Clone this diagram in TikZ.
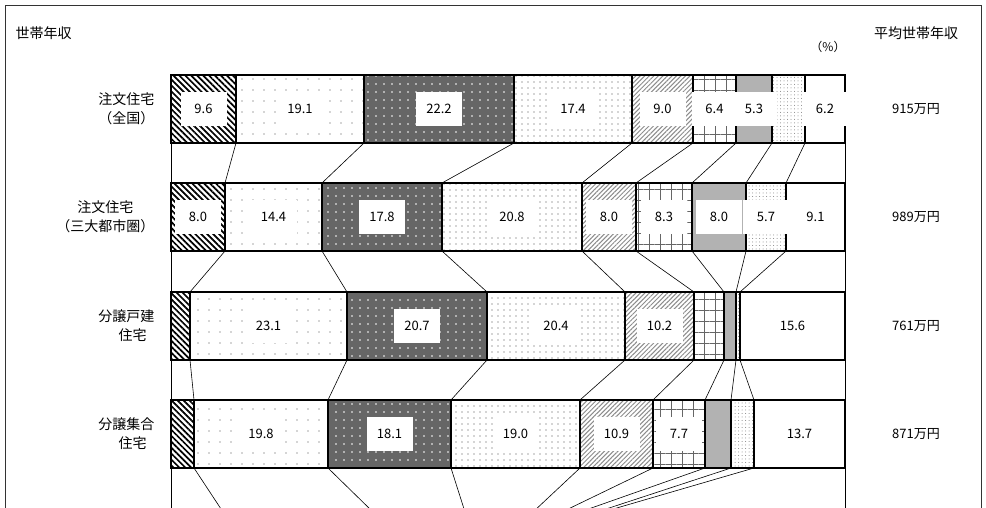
\documentclass[tikz,border=0pt]{standalone}
\usepackage{fontspec}
\setmainfont{Noto Sans CJK JP}
\usetikzlibrary{patterns.meta, calc}

\tikzset{
    bar/.style = {draw=black, line width=1.1pt},
    seg1/.style = {bar, preaction={fill=white}, pattern={Lines[angle=-45,distance=4.2pt,line width=1.7pt]}},
    seg2/.style = {bar, preaction={fill=white}, pattern={Dots[distance=11pt,radius=0.7pt]}, pattern color=black!70},
    seg3/.style = {bar, preaction={fill=black!60}, pattern={Dots[distance=8pt,radius=0.9pt]}, pattern color=white},
    seg4/.style = {bar, preaction={fill=white}, pattern={Dots[distance=6pt,radius=0.7pt]}, pattern color=black!70},
    seg5/.style = {bar, preaction={fill=white}, pattern={Lines[angle=45,distance=3.2pt,line width=1pt]}, pattern color=black!45},
    seg6/.style = {bar, preaction={fill=white}, pattern={Hatch[angle=0,distance=11pt,line width=0.9pt]}, pattern color=black!60},
    seg7/.style = {bar, fill=black!30},
    seg8/.style = {bar, preaction={fill=white}, pattern={Dots[distance=3.5pt,radius=0.5pt]}, pattern color=black!50},
    seg9/.style = {bar, fill=white},
    lab/.style = {fill=white, inner sep=0pt, minimum width=46pt, minimum height=34pt, font=\fontsize{13pt}{13pt}\selectfont},
    rowlab/.style = {align=center, font=\fontsize{14pt}{19pt}\selectfont},
    link/.style = {draw=black, line width=0.6pt},
}

\begin{document}
\begin{tikzpicture}[x=1pt, y=-1pt]
    \useasboundingbox (0,0) rectangle (986,508);
    \draw[line width=0.8pt, black!80] (5,520) -- (5,5) -- (981,5) -- (981,520);
    %headings
    \node[font=\fontsize{14pt}{14pt}\selectfont, anchor=west] (hd income) at (12,33) {世帯年収};
    \node[font=\fontsize{14pt}{14pt}\selectfont] (hd avg) at (916,33) {平均世帯年収};
    \node[font=\fontsize{12pt}{12pt}\selectfont] (hd pct) at (828,47) {（\%）};
    %bars
    \foreach \row/\yt/\xs/\labs/\name/\avg in {
        1/75/{171,236,364,514,632,693,736,772,805,845}/{1/9.6,2/19.1,3/22.2,4/17.4,5/9.0,6/6.4,7/5.3,9/6.2}/{注文住宅\\（全国）}/915,
        2/183/{171,225,322,442,582,636,692,746,786,845}/{1/8.0,2/14.4,3/17.8,4/20.8,5/8.0,6/8.3,7/8.0,8/5.7,9/9.1}/{注文住宅\\（三大都市圏）}/989,
        3/292/{171,190,347,487,625,694,724,736,740,845}/{2/23.1,3/20.7,4/20.4,5/10.2,9/15.6}/{分譲戸建\\\ \ \ \ 住宅}/761,
        4/400/{171,194,328,451,580,653,705,731,754,845}/{2/19.8,3/18.1,4/19.0,5/10.9,6/7.7,9/13.7}/{分譲集合\\\ \ \ \ 住宅}/871}{
        \foreach \x [count=\j] in \xs {
            \coordinate (r\row t\j) at (\x,\yt);
            \coordinate (r\row b\j) at (\x,\yt+68);
        }
        \foreach \j in {1,...,9} {
            \pgfmathtruncatemacro\k{\j+1}
            \path[seg\j] (r\row t\j) rectangle (r\row b\k);
        }
        \foreach \j/\v in \labs {
            \pgfmathtruncatemacro\k{\j+1}
            \node[lab] (r\row l\j) at ($(r\row t\j)!0.5!(r\row b\k)$) {\v};
        }
        \node[rowlab, anchor=east] (r\row name) at (158,\yt+34) {\name};
        \node[font=\fontsize{13pt}{13pt}\selectfont] (r\row avg) at (916,\yt+34) {\avg 万円};
    }
    %links between bars
    \foreach \row [evaluate=\row as \nxt using int(\row+1)] in {1,2,3} {
        \foreach \j in {1,...,10} {
            \draw[link] (r\row b\j) -- (r\nxt t\j);
        }
    }
    \foreach \x [count=\i] in {171,223,373,465,533,562,580,597,603,845} {
        \coordinate (r5t\i) at (\x,512);
        \draw[link] (r4b\i) -- (r5t\i);
    }
\end{tikzpicture}
\end{document}
